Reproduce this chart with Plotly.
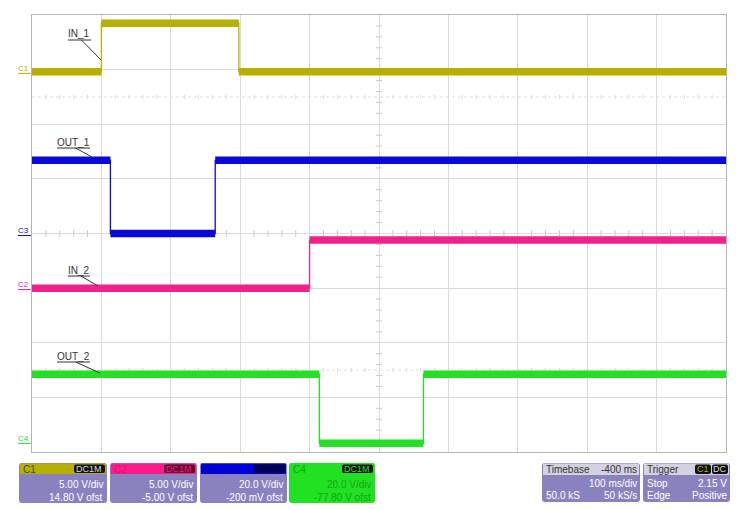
import plotly.graph_objects as go

# ---------------- data ----------------
# time axis: ms relative to trigger; 100 ms/div, 10 div, trigger at 1st division
time_start_ms = -100
time_end_ms = 900
ms_per_div = 100

# channel settings (V/div, offset V)
ch_names = ["C1", "C2", "C3", "C4"]
ch_vdiv = [5.0, 5.0, 20.0, 20.0]
ch_ofst = [14.80, -5.00, -0.200, -77.80]

# waveforms: transition times (ms) and levels (V)
c1_edges = [0, 198]
c1_levels = [0.0, 4.45, 0.0]
c3_edges = [13, 164]
c3_levels = [27.0, 0.2, 27.0]
c2_edges = [300]
c2_levels = [0.0, 4.4]
c4_edges = [314, 464]
c4_levels = [26.3, 1.0, 26.3]

trace_labels = ["IN_1", "OUT_1", "IN_2", "OUT_2"]
trigger_level_v = 2.15

col_c1 = "#b7b000"
col_c2 = "#f2208a"
col_c3 = "#0a0ad8"
col_c4 = "#22e022"

# ---------------- geometry helpers ----------------
# page body has an 8px margin, so the figure is drawn 8px smaller
PAGE_OFF = 8
W, H = 740, 510
L, R, T, B = 32, 726, 15, 452


def px(x):
    return (x - L) / (R - L)


def py(y):
    return (B - y) / (B - T)


def to_div(v, vdiv, ofst):
    return (v + ofst) / vdiv


fig = go.Figure()

waves = [
    (c1_edges, c1_levels, 0, col_c1),
    (c3_edges, c3_levels, 2, col_c3),
    (c2_edges, c2_levels, 1, col_c2),
    (c4_edges, c4_levels, 3, col_c4),
]

for edges, levels, ci, col in waves:
    vd, of = ch_vdiv[ci], ch_ofst[ci]
    bounds = [time_start_ms] + edges + [time_end_ms]
    xs, ys = [], []
    for i, lv in enumerate(levels):
        xs += [bounds[i], bounds[i + 1]]
        ys += [to_div(lv, vd, of)] * 2
    fig.add_trace(go.Scatter(x=xs, y=ys, mode="lines",
                             line=dict(color=col, width=1.3),
                             hoverinfo="skip", showlegend=False))
    xs2, ys2 = [], []
    for i, lv in enumerate(levels):
        xs2 += [bounds[i], bounds[i + 1], None]
        ys2 += [to_div(lv, vd, of)] * 2 + [None]
    fig.add_trace(go.Scatter(x=xs2, y=ys2, mode="lines",
                             line=dict(color=col, width=7.5),
                             hoverinfo="skip", showlegend=False))

# trigger markers
trig_div = to_div(trigger_level_v, ch_vdiv[0], ch_ofst[0])
fig.add_trace(go.Scatter(x=[time_end_ms + 3.5], y=[trig_div], mode="markers",
                         marker=dict(symbol="triangle-left", size=8, color=col_c1),
                         cliponaxis=False, showlegend=False, hoverinfo="skip"))
fig.add_trace(go.Scatter(x=[0], y=[-4.09], mode="markers",
                         marker=dict(symbol="triangle-up", size=8, color=col_c1),
                         cliponaxis=False, showlegend=False, hoverinfo="skip"))

shapes = []
annotations = []

# faint dotted reference lines at +/-2.5 div
for yv in (2.5, -2.5):
    shapes.append(dict(type="line", xref="x", yref="y", x0=time_start_ms, x1=time_end_ms,
                       y0=yv, y1=yv, line=dict(color="#e0e0e0", width=1, dash="dot"),
                       layer="below"))

# minor ticks on center lines
ctr_t = (time_start_ms + time_end_ms) / 2
for k in range(-20, 21):
    yv = k * 0.2
    if k % 5 != 0:
        shapes.append(dict(type="line", xref="x", yref="y",
                           x0=ctr_t - 4, x1=ctr_t + 4, y0=yv, y1=yv,
                           line=dict(color="#c4c4c4", width=1), layer="below"))
for k in range(-25, 26):
    tv = ctr_t + k * 20
    if k % 5 != 0:
        shapes.append(dict(type="line", xref="x", yref="y",
                           x0=tv, x1=tv, y0=-0.06, y1=0.06,
                           line=dict(color="#c4c4c4", width=1), layer="below"))
        for yc in (2.5, -2.5):
            shapes.append(dict(type="line", xref="x", yref="y",
                               x0=tv, x1=tv, y0=yc - 0.04, y1=yc + 0.04,
                               line=dict(color="#dedede", width=1), layer="below"))

# trace labels with underline and leader line
lab_geo = [
    (79, 34, 68, 91, 40, 101, 60),
    (73, 143, 57, 90, 148, 92, 157),
    (79, 270, 68, 90, 276, 98, 286),
    (73, 356, 57, 90, 362, 100, 373),
]
for txt_, (tx, ty, ux0, ux1, uy, lx, ly) in zip(trace_labels, lab_geo):
    annotations.append(dict(text=txt_, x=px(tx), y=py(ty), xref="paper", yref="paper",
                            showarrow=False, font=dict(size=10, color="#333333",
                                                       family="Liberation Sans, Arial"),
                            xanchor="center", yanchor="middle"))
    shapes.append(dict(type="line", xref="paper", yref="paper", x0=px(ux0), x1=px(ux1),
                       y0=py(uy), y1=py(uy), line=dict(color="#333333", width=1)))
    shapes.append(dict(type="line", xref="paper", yref="paper", x0=px((ux0 + ux1) / 2 + 2),
                       x1=px(lx), y0=py(uy), y1=py(ly), line=dict(color="#333333", width=1)))

# channel ground labels on the left
for ci, col in zip([0, 2, 1, 3], [col_c1, col_c3, col_c2, col_c4]):
    gdiv = to_div(0, ch_vdiv[ci], ch_ofst[ci])
    gy = 234 - gdiv * 54.6
    if ci == 3:
        gy -= 4
    annotations.append(dict(text=ch_names[ci], x=px(23), y=py(gy - 4), xref="paper",
                            yref="paper", showarrow=False,
                            font=dict(size=8, color=col, family="Liberation Sans, Arial"),
                            xanchor="center", yanchor="middle"))
    shapes.append(dict(type="line", xref="paper", yref="paper", x0=px(18), x1=px(31),
                       y0=py(gy + 1), y1=py(gy + 1), line=dict(color=col, width=1)))


def rrect(x0, y0, x1, y1, fill, r=3):
    a, b, c, d = px(x0), px(x1), py(y0), py(y1)
    rx = r / (R - L)
    ry = r / (B - T)
    path = (f"M{a+rx},{c} L{b-rx},{c} Q{b},{c} {b},{c-ry} L{b},{d+ry} Q{b},{d} {b-rx},{d} "
            f"L{a+rx},{d} Q{a},{d} {a},{d+ry} L{a},{c-ry} Q{a},{c} {a+rx},{c} Z")
    shapes.append(dict(type="path", xref="paper", yref="paper", path=path,
                       fillcolor=fill, line=dict(width=0)))


def rect(x0, y0, x1, y1, fill):
    shapes.append(dict(type="rect", xref="paper", yref="paper", x0=px(x0), x1=px(x1),
                       y0=py(y1), y1=py(y0), fillcolor=fill, line=dict(width=0)))


def txt(s, x, y, color, anchor="right", size=10):
    annotations.append(dict(text=s, x=px(x), y=py(y), xref="paper", yref="paper",
                            showarrow=False, xanchor=anchor, yanchor="middle",
                            font=dict(size=size, color=color,
                                      family="Liberation Sans, Arial")))


body = "#8a82bf"
boxes = [
    (19, 107, col_c1, body, "#4a4600", "#111111", "#dddddd", "white"),
    (110, 197, "#ff1a8c", body, "#e0107a", "#5a0a2a", "#ff1a8c", "white"),
    (200, 287, "#0000d8", body, "#0000b0", "#00004a", "#00006a", "white"),
    (289, 375, col_c4, col_c4, "#15a015", "#111111", col_c4, "#14a414"),
]
for i, (x0, x1, hc, bc, nc, bf, btc, tc) in enumerate(boxes):
    vd, of = ch_vdiv[i], ch_ofst[i]
    rrect(x0, 463, x1, 503, bc)
    rect(x0 + 1, 463.5, x1 - 1, 474, hc)
    rrect(x1 - 33, 464.5, x1 - 2, 473, bf, r=2)
    txt(ch_names[i], x0 + 2, 469, nc, anchor="left", size=10)
    txt("DC1M", x1 - 3, 469, btc, size=9)
    vdiv_s = f"{vd:.2f} V/div" if vd < 10 else f"{vd:.1f} V/div"
    if abs(of) < 1:
        ofst_s = f"{of*1000:.0f} mV ofst"
    else:
        ofst_s = f"{of:.2f} V ofst"
    txt(vdiv_s, x1 - 2, 484, tc)
    txt(ofst_s, x1 - 2, 497, tc)

# timebase box
rrect(542, 463, 640, 502, body)
rect(543, 463.5, 639, 475, "#d4d2e0")
txt("Timebase", 544, 469, "#333333", anchor="left")
txt("-400 ms", 639, 469, "#333333")
txt("100 ms/div", 639, 483, "white")
txt("50.0 kS", 544, 496, "white", anchor="left")
txt("50 kS/s", 639, 496, "white")

# trigger box
rrect(643, 463, 730, 502, body)
rect(644, 463.5, 729, 475, "#d4d2e0")
txt("Trigger", 645, 469, "#333333", anchor="left")
rrect(695, 464.5, 711, 474, "#111111", r=2)
rrect(712, 464.5, 728, 474, "#111111", r=2)
txt("C1", 703, 469, col_c1, anchor="center", size=9)
txt("DC", 720, 469, "#dddddd", anchor="center", size=9)
txt("Stop", 645, 483, "white", anchor="left")
txt("2.15 V", 729, 483, "white")
txt("Edge", 645, 496, "white", anchor="left")
txt("Positive", 729, 496, "white")

fig.update_layout(
    width=W - PAGE_OFF, height=H - PAGE_OFF,
    margin=dict(l=L - PAGE_OFF, r=W - R, t=T - PAGE_OFF, b=H - B),
    plot_bgcolor="white", paper_bgcolor="white",
    shapes=shapes, annotations=annotations,
    showlegend=False,
    xaxis=dict(range=[time_start_ms, time_end_ms], dtick=ms_per_div, tick0=time_start_ms,
               showticklabels=False, ticks="", showgrid=True, gridcolor="#dadada",
               gridwidth=1, zeroline=False, showline=True, linecolor="#b5b5b5",
               mirror=True, fixedrange=True),
    yaxis=dict(range=[-4, 4], dtick=1, tick0=0, showticklabels=False, ticks="",
               showgrid=True, gridcolor="#dadada", gridwidth=1, zeroline=False,
               showline=True, linecolor="#b5b5b5", mirror=True, fixedrange=True),
)

fig.write_html("out.html")
